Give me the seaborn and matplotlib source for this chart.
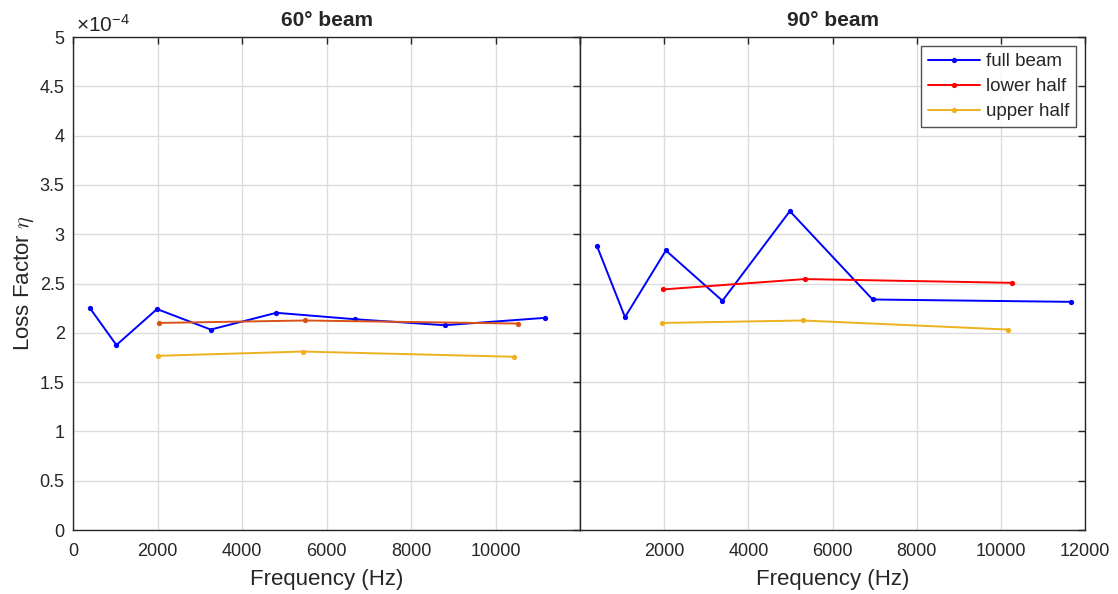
import numpy as np
import pandas as pd
import matplotlib
matplotlib.use("Agg")
import matplotlib.pyplot as plt
import seaborn as sns

# ========== Data (loss factor in units of 1e-4) ==========
freq_60_full = [395, 1027, 1988, 3259, 4814, 6667, 8797, 11180]
eta_60_full = [2.254, 1.876, 2.241, 2.033, 2.203, 2.138, 2.077, 2.152]
freq_60_lower = [2028, 5500, 10532]
eta_60_lower = [2.100, 2.125, 2.094]
freq_60_upper = [2021, 5444, 10438]
eta_60_upper = [1.767, 1.810, 1.757]

freq_90_full = [398, 1069, 2040, 3384, 4986, 6953, 11678]
eta_90_full = [2.885, 2.159, 2.835, 2.325, 3.234, 2.338, 2.314]
freq_90_lower = [1976, 5341, 10256]
eta_90_lower = [2.440, 2.545, 2.507]
freq_90_upper = [1946, 5294, 10175]
eta_90_upper = [2.100, 2.125, 2.033]

BLUE = "#0000FF"
ORANGE = "#D95319"
RED = "#FF0000"
YELLOW = "#EDB120"
AXCOL = "#262626"

sns.set_style("white")
plt.rcParams["font.family"] = ["Liberation Sans", "DejaVu Sans"]
plt.rcParams["mathtext.fontset"] = "cm"

fig = plt.figure(figsize=(11.18, 5.94), dpi=100)
ax1 = fig.add_axes([0.0653, 0.1077, 0.4535, 0.830])
ax2 = fig.add_axes([0.5188, 0.1077, 0.4517, 0.830])

def draw(ax, fx, fy, col, label):
    df = pd.DataFrame({"f": fx, "eta": fy})
    sns.lineplot(data=df, x="f", y="eta", ax=ax, color=col, marker="o",
                 markersize=3.8, markeredgewidth=0, linewidth=1.4,
                 label=label, sort=False)

draw(ax1, freq_60_full, eta_60_full, BLUE, "full beam")
draw(ax1, freq_60_lower, eta_60_lower, ORANGE, "lower half")
draw(ax1, freq_60_upper, eta_60_upper, YELLOW, "upper half")

draw(ax2, freq_90_full, eta_90_full, BLUE, "full beam")
draw(ax2, freq_90_lower, eta_90_lower, RED, "lower half")
draw(ax2, freq_90_upper, eta_90_upper, YELLOW, "upper half")

for ax in (ax1, ax2):
    ax.set_xlim(0, 12000)
    ax.set_ylim(0, 5)
    ax.set_yticks(np.arange(0, 5.01, 0.5))
    ax.set_xticks(np.arange(0, 12001, 2000))
    ax.grid(True, color="#DCDCDC", linewidth=1)
    ax.set_axisbelow(True)
    ax.tick_params(direction="in", top=True, right=True, length=5,
                   width=1, colors=AXCOL, labelsize=13, labelcolor=AXCOL)
    ax.tick_params(axis="x", pad=9)
    ax.tick_params(axis="y", pad=6)
    for s in ax.spines.values():
        s.set_color(AXCOL)
        s.set_linewidth(1)
    ax.set_xlabel("Frequency (Hz)", fontsize=16, color=AXCOL, labelpad=7)

ax1.set_xticklabels(["0", "2000", "4000", "6000", "8000", "10000", ""])
ax1.set_yticklabels(["0", "0.5", "1", "1.5", "2", "2.5", "3", "3.5", "4", "4.5", "5"])
ax1.set_ylabel(r"Loss Factor $\eta$", fontsize=16, color=AXCOL, labelpad=3)
ax1.get_legend().remove()
ax1.set_title("60° beam", fontsize=15, fontweight="bold", pad=8)
ax1.text(0.005, 1.003, r"$\mathregular{\times10^{-4}}$", transform=ax1.transAxes,
         fontsize=15, color=AXCOL, ha="left", va="bottom")

ax2.set_xticklabels(["", "2000", "4000", "6000", "8000", "10000", "12000"])
ax2.set_yticklabels([])
ax2.set_ylabel("")
ax2.set_title("90° beam", fontsize=15, fontweight="bold", pad=8)
leg = ax2.legend(loc="upper right", fontsize=13.5, frameon=True, fancybox=False,
                 edgecolor=AXCOL, borderpad=0.35, handlelength=2.8,
                 handletextpad=0.3, labelspacing=0.42, borderaxespad=0.5)
leg.get_frame().set_linewidth(1)

fig.savefig("out.png", dpi=100)
plt.close(fig)
